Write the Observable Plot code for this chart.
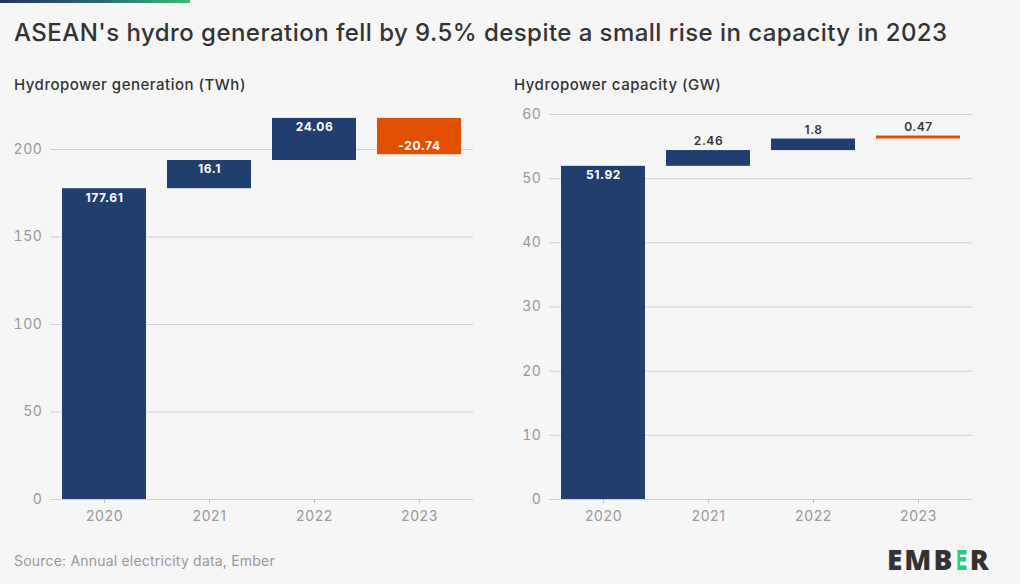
<!DOCTYPE html>
<html>
<head>
<meta charset="utf-8">
<script src="https://cdn.jsdelivr.net/npm/d3@7"></script>
<script src="https://cdn.jsdelivr.net/npm/@observablehq/plot@0.6"></script>
<style>
  html, body { margin: 0; padding: 0; background: #f6f6f6; }
  body { width: 1020px; height: 584px; position: relative; overflow: hidden; font-family: Inter, "Noto Sans", sans-serif; }
  #accent { position: absolute; left: 0; top: 0; width: 190px; height: 3px; background: linear-gradient(90deg, #1c355e, #2f6a78 55%, #3dbd74); }
  #title { position: absolute; left: 14px; top: 18px; font-size: 24px; font-weight: 500; color: #333; letter-spacing: 0.45px; white-space: nowrap; }
  .sub { position: absolute; top: 75px; font-size: 15px; font-weight: 500; color: #333; letter-spacing: 0.5px; white-space: nowrap; }
  #chartL { position: absolute; left: 0; top: 100px; }
  #chartR { position: absolute; left: 499px; top: 100px; }
  #source { position: absolute; left: 14px; top: 552px; font-size: 14px; color: #999; letter-spacing: 0.2px; white-space: nowrap; }
  #logo { position: absolute; left: 887px; top: 540px; font-size: 28px; font-weight: 800; color: #333; letter-spacing: 2px; white-space: nowrap; font-family: "Open Sans", sans-serif; }
  #logo .b { letter-spacing: 0; }
  #logo .g { color: #2fc77a; display: inline-block; clip-path: inset(0 0 0 30%); }
  svg text { letter-spacing: 0.6px; }
</style>
</head>
<body>
<div id="accent"></div>
<div id="title">ASEAN's hydro generation fell by 9.5% despite a small rise in capacity in 2023</div>
<div class="sub" style="left:14px">Hydropower generation (TWh)</div>
<div class="sub" style="left:514px">Hydropower capacity (GW)</div>
<div id="chartL"></div>
<div id="chartR"></div>
<div id="source">Source: Annual electricity data, Ember</div>
<div id="logo">EM<span class="b">B</span><span class="g">E</span>R</div>
<script>
const years = ["2020", "2021", "2022", "2023"];
const generationValues = [177.61, 16.1, 24.06, -20.74];
const capacityValues = [51.92, 2.46, 1.8, 0.47];
const generationTicks = [0, 50, 100, 150, 200];
const capacityTicks = [0, 10, 20, 30, 40, 50, 60];
const generationMax = 220;
const capacityMax = 60;

const NAVY = "#213f6e";
const RED = "#e05000";

function waterfall(values) {
  let acc = 0;
  return values.map((v, i) => {
    const start = i === 0 ? 0 : acc;
    const end = i === 0 ? v : acc + v;
    acc = end;
    return {year: years[i], value: v, start, end, top: Math.max(start, end), bottom: Math.min(start, end), last: i === values.length - 1};
  });
}

function chart(values, ticks, max, insideThreshold) {
  const data = waterfall(values);
  const inside = data.filter(d => Math.abs(d.value) >= insideThreshold);
  const above = data.filter(d => Math.abs(d.value) < insideThreshold);
  return Plot.plot({
    width: 490,
    height: 429,
    marginLeft: 50,
    marginRight: 17,
    marginTop: 14,
    marginBottom: 30,
    style: {background: "transparent", fontFamily: "Inter, 'Noto Sans', sans-serif"},
    x: {domain: years, paddingInner: 0.2, paddingOuter: 0.1, label: null},
    y: {domain: [0, max], ticks: ticks, label: null},
    marks: [
      Plot.gridY(ticks, {stroke: "#cfcfcf", strokeOpacity: 1}),
      Plot.ruleY([0], {stroke: "#cfcfcf"}),
      Plot.axisX({tickSize: 4, tickPadding: 8, fontSize: 14, color: "#999", stroke: "#bbb", label: null}),
      Plot.axisY(ticks, {tickSize: 0, tickPadding: 8, fontSize: 14, color: "#999", label: null}),
      Plot.barY(data, {x: "year", y1: "start", y2: "end", fill: d => d.last ? RED : NAVY}),
      Plot.text(inside.filter(d => d.value >= 0), {x: "year", y: "top", text: d => String(d.value), dy: 9, fill: "white", fontSize: 12, fontWeight: 700}),
      Plot.text(inside.filter(d => d.value < 0), {x: "year", y: "bottom", text: d => String(d.value), dy: -9, fill: "white", fontSize: 12, fontWeight: 700}),
      Plot.text(above, {x: "year", y: "top", text: d => String(d.value), dy: -9, fill: "#333", fontSize: 12, fontWeight: 600})
    ]
  });
}

document.getElementById("chartL").append(chart(generationValues, generationTicks, generationMax, 5));
document.getElementById("chartR").append(chart(capacityValues, capacityTicks, capacityMax, 10));
</script>
</body>
</html>
